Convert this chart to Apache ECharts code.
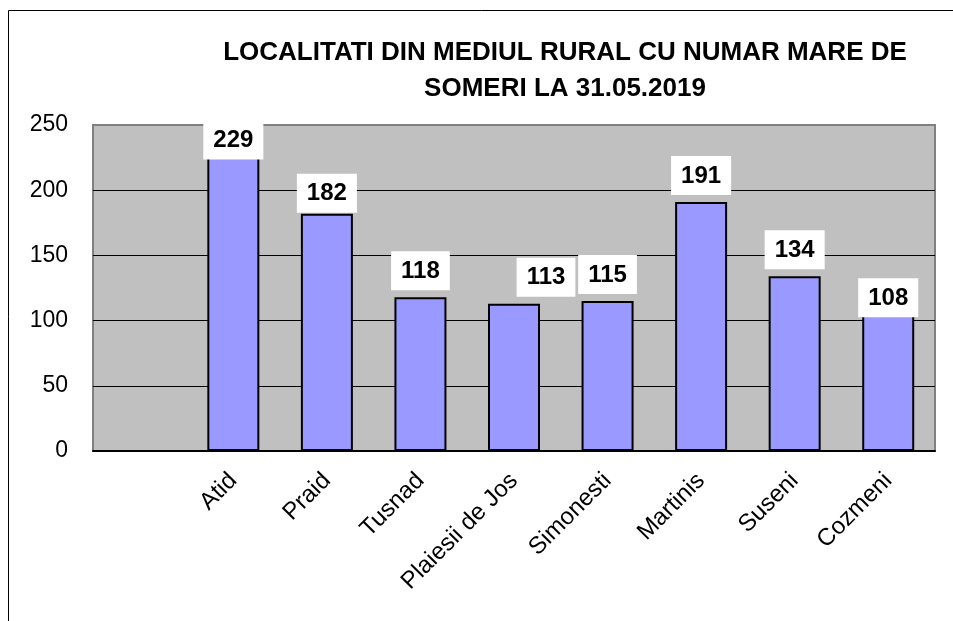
<!DOCTYPE html>
<html>
<head>
<meta charset="utf-8"/>
<title>Localitati rurale - someri</title>
<script src="https://cdn.jsdelivr.net/npm/echarts@6/dist/echarts.min.js"></script>
<style>
  html, body { margin: 0; padding: 0; background: #fff; overflow: hidden; }
  #chart { width: 953px; height: 621px; }
</style>
</head>
<body>
<div id="chart"></div>
<script>
// date
var localitati = ['', 'Atid', 'Praid', 'Tusnad', 'Plaiesii de Jos', 'Simonesti', 'Martinis', 'Suseni', 'Cozmeni'];
var someri = [null, 229, 182, 118, 113, 115, 191, 134, 108];
var yTicks = [0, 50, 100, 150, 200, 250];

// mici ajustari ale etichetelor (ca in Excel)
var labelShift = { 1: [0, 14], 2: [0, 6], 4: [32, 0], 8: [0, 14] };

var chart = echarts.init(document.getElementById('chart'));

var barData = someri.map(function (v, i) {
  var item = { value: v };
  if (labelShift[i]) item.label = { offset: labelShift[i] };
  return item;
});

var option = {
  animation: false,
  backgroundColor: '#fff',
  title: {
    text: 'LOCALITATI DIN MEDIUL RURAL CU NUMAR MARE DE\nSOMERI LA 31.05.2019',
    left: 560,
    top: 30,
    textAlign: 'center',
    textStyle: {
      fontFamily: 'Liberation Sans, Arial, sans-serif',
      fontSize: 26,
      fontWeight: 'bold',
      color: '#000',
      lineHeight: 36
    }
  },
  graphic: [{
    type: 'rect',
    shape: { x: 8.5, y: 10.5, width: 3000, height: 3000 },
    style: { fill: 'none', stroke: '#000', lineWidth: 1 },
    z: 100
  }],
  grid: {
    left: 93, right: 18, top: 125, bottom: 170,
    show: true,
    backgroundColor: '#c0c0c0',
    borderColor: '#808080',
    borderWidth: 2
  },
  xAxis: {
    type: 'category',
    data: localitati,
    axisLine: { lineStyle: { color: '#000', width: 2 } },
    axisTick: { show: false },
    axisLabel: {
      rotate: 45,
      margin: 26,
      interval: 0,
      fontFamily: 'Liberation Sans, Arial, sans-serif',
      fontSize: 24,
      color: '#000'
    }
  },
  yAxis: {
    type: 'value',
    min: yTicks[0],
    max: yTicks[yTicks.length - 1],
    interval: 50,
    axisLine: { show: false },
    axisTick: { show: false },
    axisLabel: {
      margin: 25,
      fontFamily: 'Liberation Sans, Arial, sans-serif',
      fontSize: 23,
      color: '#000'
    },
    splitLine: {
      lineStyle: { color: ['#000', '#000', '#000', '#000', '#000', '#808080'], width: 1 }
    }
  },
  series: [{
    type: 'bar',
    data: barData,
    barWidth: 52,
    itemStyle: { color: '#9999ff', borderColor: '#000', borderWidth: 2 },
    label: {
      show: true,
      position: 'top',
      distance: 7,
      backgroundColor: '#fff',
      padding: [8, 10, 7, 10],
      fontFamily: 'Liberation Sans, Arial, sans-serif',
      fontSize: 24,
      fontWeight: 'bold',
      color: '#000'
    }
  }]
};

chart.setOption(option);
</script>
</body>
</html>
